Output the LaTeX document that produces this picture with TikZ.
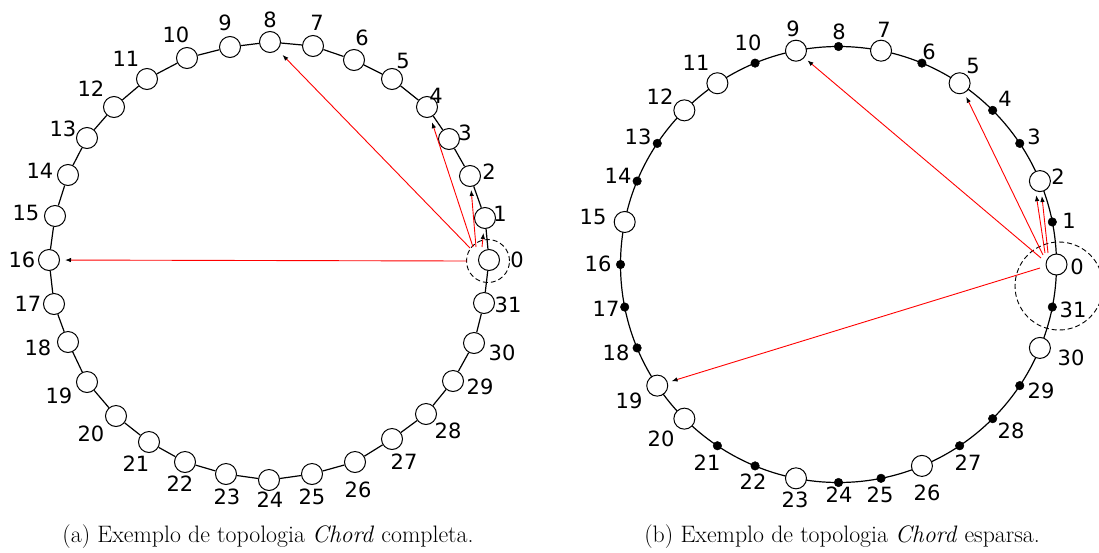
\documentclass[tikz,border=0pt]{standalone}
\usepackage{fontspec}
\usetikzlibrary{arrows.meta,calc}
\newfontfamily\lblfont{DejaVu Sans}
\tikzset{
  peer/.style={circle, draw, fill=white, minimum size=21pt, inner sep=0pt, line width=1pt},
  dotpeer/.style={circle, fill=black, draw=black, minimum size=8.5pt, inner sep=0pt, line width=0.5pt},
  lbl/.style={font=\lblfont\fontsize{21}{21}\selectfont, inner sep=0pt},
  ring/.style={line width=1.2pt},
  finger/.style={draw=red, line width=0.9pt, -{Latex[length=6pt,width=4.5pt,color=black]}},
  zone/.style={circle, draw, dash pattern=on 5pt off 3pt, line width=0.9pt, inner sep=0pt},
  capt/.style={font=\fontsize{23.8}{28}\selectfont, inner sep=0pt},
}
\begin{document}
\begin{tikzpicture}[x=1pt,y=-1pt]
\useasboundingbox (0,0) rectangle (1099,552);
% ---------- (a) complete Chord ----------
\foreach \i/\x/\y/\lx/\ly in {
 0/489/260/517/260, 1/485/218/500/214, 2/470/176/489/172, 3/449/139/465/133,
 4/427/107/436/96, 5/392/79/403/61, 6/354/60/362/38, 7/313/46/317/23,
 8/270/42/270/20, 9/230/47/225/23, 10/187/58/176/35, 11/147/79/126/59,
 12/114/107/91/89, 13/87/138/63/129, 14/68/175/40/171, 15/55/216/26/213,
 16/49/260/22/260, 17/54/304/28/304, 18/68/342/38/348, 19/87/382/59/396,
 20/116/416/91/434, 21/149/442/136/464, 22/185/462/180/484, 23/226/474/227/497,
 24/269/480/270/500, 25/312/474/312/497, 26/355/462/358/490, 27/392/439/404/462,
 28/426/414/448/431, 29/453/381/480/387, 30/474/343/502/353, 31/484/303/508/305}
{
  \node[peer] (L\i) at (\x,\y) {};
  \node[lbl] (LL\i) at (\lx,\ly) {\i};
}
\foreach \i [evaluate=\i as \j using {int(mod(\i+1,32))}] in {0,...,31}
  \draw[ring] (L\i) -- (L\j);
\node[zone, minimum size=43pt] (Lzone) at (488,261) {};
\coordinate (La1) at (482,247);
\coordinate (La2) at (476,247);
\coordinate (La4) at (473,247);
\coordinate (La8) at (470,248);
\coordinate (La16) at (467,261);
\draw[finger, shorten >=4pt] (La1) -- (L1);
\draw[finger, shorten >=3pt] (La2) -- (L2);
\draw[finger, shorten >=5pt] (La4) -- (L4);
\draw[finger, shorten >=7pt] (La8) -- (L8);
\draw[finger, shorten >=5pt] (La16) -- (L16);
\node[capt] (capa) at (268,537) {(a) Exemplo de topologia \textit{Chord} completa.};
% ---------- (b) sparse Chord ----------
\coordinate (C) at (838.5,264.5);
\draw[ring] (C) circle (218);
\foreach \i in {0,...,31}
  \coordinate (P\i) at ($(C)+(-\i*11.25:218)$);
\foreach \i in {1,3,4,6,8,10,13,14,16,17,18,21,22,24,25,27,28,29,31}
  \node[dotpeer] (R\i) at (P\i) {};
\foreach \i in {0,2,5,7,9,11,12,15,19,20,23,26,30}
  \node[peer] (R\i) at (P\i) {};
\foreach \i/\lx/\ly in {
 0/1077/267, 1/1069/221, 2/1058/177, 3/1034/137, 4/1005/99, 5/973/66,
 6/929/52, 7/884/30, 8/839/32, 9/793/29, 10/748/43, 11/696/63,
 12/660/97, 13/638/137, 14/618/176, 15/593/217, 16/598/264, 17/606/309,
 18/616/353, 19/629/401, 20/661/439, 21/707/463, 22/753/482, 23/795/500,
 24/839/495, 25/880/495, 26/927/493, 27/968/463, 28/1011/431, 29/1041/391,
 30/1071/358, 31/1073/310}
  \node[lbl] (RL\i) at (\lx,\ly) {\i};
\node[zone, minimum size=88pt] (Rzone) at (1059,286) {};
\coordinate (Rb2a) at (1045,253);
\coordinate (Rb2b) at (1048,253);
\coordinate (Rb5) at (1043,255);
\coordinate (Rb9) at (1041,258);
\coordinate (Rb19) at (1040,268);
\draw[finger, shorten >=4pt] (Rb2a) -- (R2.247);
\draw[finger, shorten >=4pt] (Rb2b) -- (R2.278);
\draw[finger, shorten >=4pt] (Rb5) -- (R5);
\draw[finger, shorten >=4pt] (Rb9) -- (R9);
\draw[finger, shorten >=4pt] (Rb19) -- (R19);
\node[capt] (captb) at (842,537) {(b) Exemplo de topologia \textit{Chord} esparsa.};
\end{tikzpicture}
\end{document}
